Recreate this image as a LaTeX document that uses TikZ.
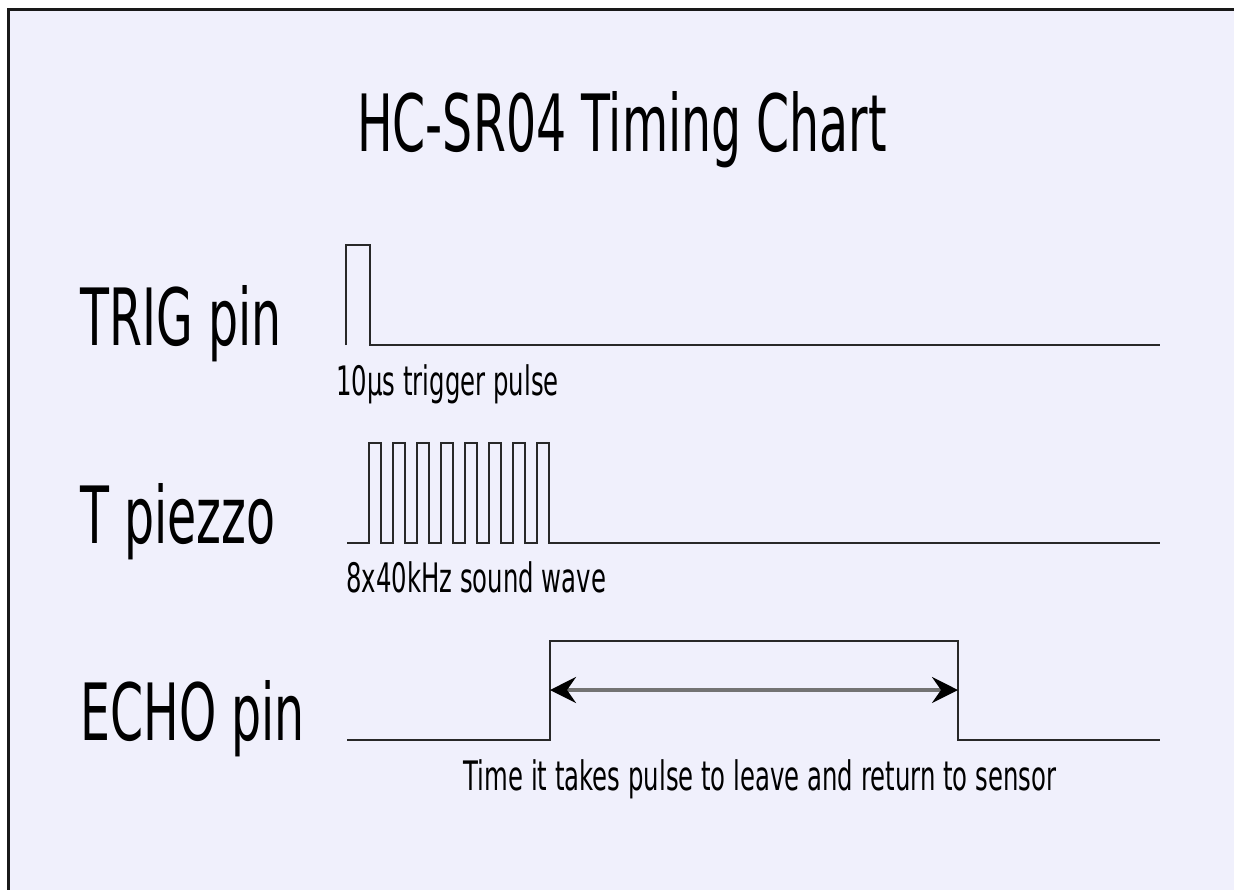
\documentclass[tikz,border=0pt]{standalone}
\usepackage{fontspec}
\usetikzlibrary{arrows.meta}
\newfontfamily\chartfont{DejaVu Sans}[FakeStretch=0.6]
\definecolor{chartbg}{RGB}{240,240,252}
\definecolor{wavecol}{RGB}{40,40,40}
\tikzset{
    signal/.style={line width=1.4pt, draw=wavecol},
    biglabel/.style={font=\chartfont\fontsize{39.5}{45}\selectfont, inner sep=0pt},
    smalllabel/.style={font=\chartfont\fontsize{20.3}{24}\selectfont, inner sep=0pt},
    timearrow/.style={line width=1.8pt, draw=black!55,
        {Stealth[length=13pt, width=13pt, inset=4.5pt, color=black]}-{Stealth[length=13pt, width=13pt, inset=4.5pt, color=black]}}
}
\begin{document}
\begin{tikzpicture}[x=0.5pt, y=-0.5pt]
    \useasboundingbox (0,0) rectangle (1234,890);
    \fill[white] (0,0) rectangle (1234,890);
    \fill[chartbg] (8,9) rectangle (1234,890);
    % frame (only top and left are visible)
    \draw[line width=1.5pt, black!90] (7,9.5) -- (1234,9.5);
    \draw[line width=1.5pt, black!90] (8.5,8) -- (8.5,890);

    \node[biglabel, anchor=base] (title) at (622,151) {HC-SR04 Timing Chart};

    % TRIG pin
    \node[biglabel, anchor=base west] (trig) at (80,345) {TRIG pin};
    \draw[signal] (346,345) -- (346,245) -- (370,245) -- (370,345) -- (1160,345);
    \node[smalllabel, anchor=base west] (trignote) at (336,395) {10µs trigger pulse};

    % T piezzo
    \node[biglabel, anchor=base west] (piezzo) at (80,543) {T piezzo};
    \draw[signal] (347,543) \foreach \i in {0,...,7}{
        -- ({369+24*\i},543) -- ({369+24*\i},443) -- ({381+24*\i},443) -- ({381+24*\i},543)}
        -- (1160,543);
    \node[smalllabel, anchor=base west] (piezzonote) at (346,592) {8x40kHz sound wave};

    % ECHO pin
    \node[biglabel, anchor=base west] (echo) at (80,740) {ECHO pin};
    \draw[signal] (347,740) -- (550,740) -- (550,641) -- (958,641) -- (958,740) -- (1160,740);
    \coordinate (echorise) at (550,690);
    \coordinate (echofall) at (958,690);
    \draw[timearrow] (echorise) -- (echofall);
    \node[smalllabel, anchor=base] (echonote) at (760,790) {Time it takes pulse to leave and return to sensor};
\end{tikzpicture}
\end{document}
